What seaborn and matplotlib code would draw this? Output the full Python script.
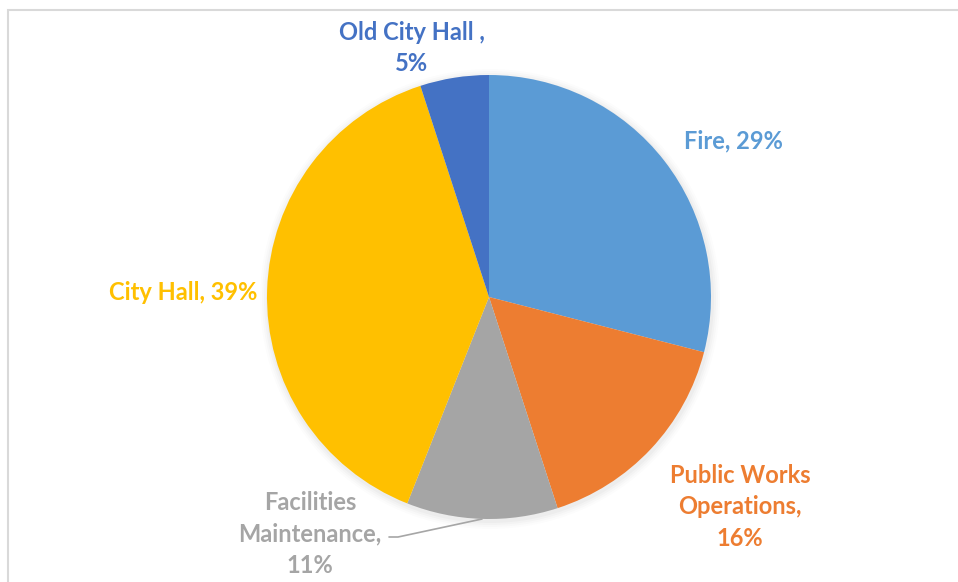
import matplotlib
matplotlib.use("Agg")
import matplotlib.pyplot as plt
import seaborn as sns

# ---- data ----
categories = ["Fire", "Public Works Operations", "Facilities Maintenance", "City Hall", "Old City Hall "]
values = [29, 16, 11, 39, 5]
label_texts = ["Fire, 29%", "Public Works\nOperations,\n16%", "Facilities\nMaintenance,\n11%",
               "City Hall, 39%", "Old City Hall ,\n5%"]
colors = ["#5B9BD5", "#ED7D31", "#A5A5A5", "#FFC000", "#4472C4"]
label_colors = ["#5B9BD5", "#ED7D31", "#A5A5A5", "#FFC000", "#4472C4"]

sns.set_theme(style="white")
plt.rcParams['font.family'] = ['Lato', 'DejaVu Sans']

W, H = 958, 582
fig = plt.figure(figsize=(W / 100, H / 100), dpi=100)
ax = fig.add_axes([0, 0, 1, 1])

cx, cy, r = 489, H - 297, 222

# soft shadow
for i, a in enumerate([0.025, 0.02, 0.015, 0.01]):
    sh = plt.Circle((cx + 1, cy - 2), r + 2 + i * 2, color="black", alpha=a, lw=0, zorder=0)
    ax.add_patch(sh)

ax.pie(values, colors=colors, startangle=90, counterclock=False,
       center=(cx, cy), radius=r, frame=True,
       wedgeprops=dict(linewidth=0, edgecolor="none"))
ax.set_xlim(0, W)
ax.set_ylim(0, H)
ax.set_aspect("auto")
ax.axis("off")

# label layout (pixel positions, top-left origin)
label_pos = [(733, 141), (740, 507), (310, 534), (183, 292), (412, 48)]
for txt, (lx, ly), c in zip(label_texts, label_pos, label_colors):
    ax.text(lx, H - ly, txt, color=c, fontsize=17, fontweight="bold",
            ha="center", va="center", linespacing=1.47, zorder=5)

# leader line for Facilities Maintenance
ax.plot([389, 398, 482], [H - 537, H - 537, H - 519], color="#A6A6A6", lw=1.2, zorder=4)

# chart border (top and left visible)
ax.plot([8.5, 8.5, W + 5], [-5, H - 9.5, H - 9.5], color="#D9D9D9", lw=1.5, zorder=6,
        solid_joinstyle="miter")

fig.savefig("out.png", dpi=100)
